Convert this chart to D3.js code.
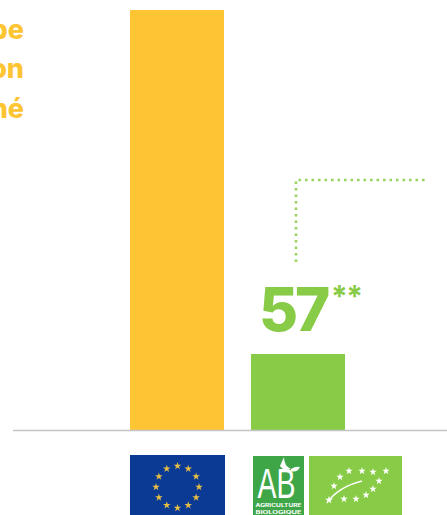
<!DOCTYPE html>
<html>
<head>
<meta charset="utf-8">
<script src="https://cdnjs.cloudflare.com/ajax/libs/d3/7.8.5/d3.min.js"></script>
<style>
html,body{margin:0;padding:0;background:#fff;overflow:hidden}
svg{display:block}
text{font-family:"Inter","Open Sans",sans-serif}
</style>
</head>
<body>
<svg id="chart" width="447" height="515"></svg>
<script>
const categories = ["Conventionnel", "Biologique"];
const values = [315, 57];
const barColors = ["#fdc533", "#88cb47"];
const introLines = ["pe", "on", "né"];
const valueLabel = "57";
const valueMark = "**";

const svg = d3.select("#chart");
const baseY = 430;

const x = d3.scaleBand().domain(categories).range([130, 345]).paddingInner(0.223).paddingOuter(0);
const y = d3.scaleLinear().domain([0, 315]).range([baseY, 10]);

// Bars
svg.selectAll("rect.bar").data(categories).join("rect")
  .attr("class", "bar")
  .attr("x", d => x(d))
  .attr("width", x.bandwidth())
  .attr("y", (d, i) => y(values[i]))
  .attr("height", (d, i) => baseY - y(values[i]))
  .attr("fill", (d, i) => barColors[i]);

// Baseline
svg.append("line").attr("x1", 13).attr("x2", 447).attr("y1", baseY + .5).attr("y2", baseY + .5)
  .attr("stroke", "#c4c4c4").attr("stroke-width", 1.5);

// Heading, running in from the left edge
svg.selectAll("text.intro").data(introLines).join("text")
  .attr("class", "intro")
  .attr("x", 24)
  .attr("y", (d, i) => 38.5 + i * 39.5)
  .attr("text-anchor", "end")
  .attr("font-size", 27)
  .attr("font-weight", 800)
  .attr("fill", "#fdc533")
  .text(d => d);

// Value label above the green bar
svg.append("text")
  .attr("x", 259).attr("y", 331)
  .attr("font-size", 60).attr("font-weight", 800)
  .attr("letter-spacing", -3)
  .attr("fill", barColors[1])
  .text(valueLabel);
svg.append("text")
  .attr("x", 331).attr("y", 307)
  .attr("font-size", 30).attr("font-weight", 700)
  .attr("letter-spacing", -1.5)
  .attr("fill", barColors[1])
  .text(valueMark);

// Dotted leader
svg.append("path")
  .attr("d", d3.line()([[296, 262], [296, 180], [426, 180]]))
  .attr("fill", "none")
  .attr("stroke", barColors[1])
  .attr("stroke-width", 2.6)
  .attr("stroke-opacity", 0.85)
  .attr("stroke-dasharray", "2.6 3.9");

const starPath = r => d3.symbol().type(d3.symbolStar).size(r)();

// European flag
const flag = svg.append("g");
flag.append("rect").attr("x", 130).attr("y", 455).attr("width", 95).attr("height", 60).attr("fill", "#0a3a94");
d3.range(12).forEach(i => {
  const a = i / 12 * 2 * Math.PI;
  flag.append("path").attr("d", starPath(18))
    .attr("transform", `translate(${177.5 + 21.5 * Math.sin(a)},${487 - 21 * Math.cos(a)})`)
    .attr("fill", "#e6be44");
});

// AB certification mark
const ab = svg.append("g");
ab.append("rect").attr("x", 253).attr("y", 456).attr("width", 51).attr("height", 59).attr("fill", "#3fa648");
ab.append("text").attr("x", 276.5).attr("y", 498).attr("text-anchor", "middle")
  .attr("font-size", 42).attr("fill", "#fff").attr("font-weight", 400)
  .style("font-family", "'Liberation Sans'")
  .attr("textLength", 38).attr("lengthAdjust", "spacingAndGlyphs").text("AB");
ab.append("path").attr("d", "M284 457q0 9 7 12q-8 2 -11 -3zM291 469q5 -3 9 -2q-3 6 -9 4z").attr("fill", "#fff");
ab.append("text").attr("x", 278.5).attr("y", 507).attr("text-anchor", "middle")
  .attr("font-size", 4.5).attr("font-weight", 700).attr("fill", "#fff")
  .attr("textLength", 46).attr("lengthAdjust", "spacingAndGlyphs").text("AGRICULTURE");
ab.append("text").attr("x", 278.5).attr("y", 514).attr("text-anchor", "middle")
  .attr("font-size", 4.5).attr("font-weight", 700).attr("fill", "#fff")
  .attr("textLength", 46).attr("lengthAdjust", "spacingAndGlyphs").text("BIOLOGIQUE");

// EU organic leaf
const leaf = svg.append("g");
leaf.append("rect").attr("x", 309).attr("y", 456).attr("width", 93).attr("height", 59).attr("fill", "#88cb47");
const leafStars = [[349,471],[362,471],[373,472],[386,471],[379,481],[373,489],[366,495],[356,499],[344,499],[340,477],[334,486]];
leafStars.forEach(p => {
  leaf.append("path").attr("d", starPath(17)).attr("transform", `translate(${p[0]},${p[1]})`).attr("fill", "#fff");
});
leaf.append("path").attr("d", "M327 503Q338 487 362 481").attr("fill", "none").attr("stroke", "#fff").attr("stroke-width", 1.3);
leaf.append("path").attr("d", starPath(20)).attr("transform", "translate(329,500)").attr("fill", "#fff");
</script>
</body>
</html>
